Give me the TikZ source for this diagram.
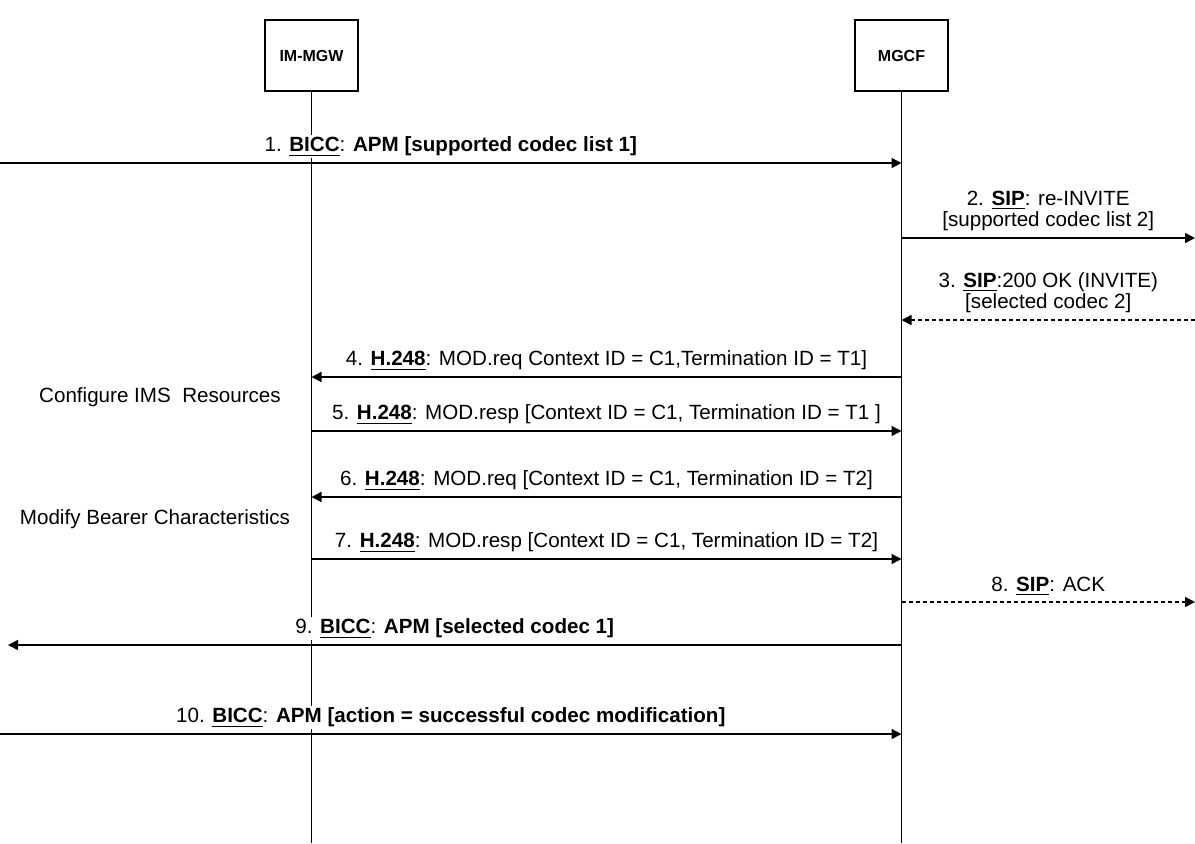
\documentclass[tikz,border=0pt]{standalone}
\usepackage{fontspec}
\setmainfont{Liberation Sans}
\usetikzlibrary{arrows.meta}
\tikzstyle{entity} = [draw, line width=0.75pt, minimum width=46.5pt, minimum height=35.5pt, inner sep=0pt, font=\fontsize{8}{9.5}\selectfont\bfseries]
\tikzstyle{lifeline} = [line width=0.75pt]
\tikzstyle{msg} = [line width=0.75pt, -{Triangle[length=5pt,width=5pt]}]
\tikzstyle{async} = [dash pattern=on 2pt off 1.5pt]
\tikzstyle{lbl} = [fill=white, inner sep=1pt, above=2pt, align=center, font=\fontsize{10.3}{9.5}\selectfont]
\tikzstyle{note} = [inner sep=0pt, font=\fontsize{10.3}{12}\selectfont]
\newcommand{\proto}[1]{\underline{\textbf{#1}}}

\begin{document}
\begin{tikzpicture}[x=0.5pt, y=-0.5pt]
\useasboundingbox (0,0) rectangle (1195,843);
% entities and lifelines
\node[entity] (mgw) at (311.5,55.5) {IM-MGW};
\node[entity] (mgcf) at (901.5,55.5) {MGCF};
\coordinate (mgwend) at (311.5,843);
\coordinate (mgcfend) at (901.5,843);
\draw[lifeline] (mgw.south) -- (mgwend);
\draw[lifeline] (mgcf.south) -- (mgcfend);

% message levels
\coordinate (lvl1) at (0,163);
\coordinate (lvl2) at (1195,238);
\coordinate (lvl3) at (1195,320);
\coordinate (lvl4) at (0,377);
\coordinate (lvl5) at (0,431);
\coordinate (lvl6) at (0,497);
\coordinate (lvl7) at (0,559);
\coordinate (lvl8) at (1195,602);
\coordinate (lvl9) at (8,645);
\coordinate (lvl10) at (0,734);

% messages
\draw[msg] (lvl1) -- (mgcf.south |- lvl1)
  node[midway, lbl] {1. \proto{BICC}: \textbf{APM [supported codec list 1]}};
\draw[msg] (mgcf.south |- lvl2) -- (lvl2)
  node[midway, lbl] {2. \proto{SIP}: re-INVITE\\{}[supported codec list 2]};
\draw[msg, async] (lvl3) -- (mgcf.south |- lvl3)
  node[midway, lbl] {3. \proto{SIP}:200 OK (INVITE)\\{}[selected codec 2]};
\draw[msg] (mgcf.south |- lvl4) -- (mgw.south |- lvl4)
  node[midway, lbl] {4. \proto{H.248}: MOD.req Context ID = C1,Termination ID = T1]};
\draw[msg] (mgw.south |- lvl5) -- (mgcf.south |- lvl5)
  node[midway, lbl] {5. \proto{H.248}: MOD.resp [Context ID = C1, Termination ID = T1 ]};
\draw[msg] (mgcf.south |- lvl6) -- (mgw.south |- lvl6)
  node[midway, lbl] {6. \proto{H.248}: MOD.req [Context ID = C1, Termination ID = T2]};
\draw[msg] (mgw.south |- lvl7) -- (mgcf.south |- lvl7)
  node[midway, lbl] {7. \proto{H.248}: MOD.resp [Context ID = C1, Termination ID = T2]};
\draw[msg, async] (mgcf.south |- lvl8) -- (lvl8)
  node[midway, lbl] {8. \proto{SIP}: ACK};
\draw[msg] (mgcf.south |- lvl9) -- (lvl9)
  node[midway, lbl] {9. \proto{BICC}: \textbf{APM [selected codec 1]}};
\draw[msg] (lvl10) -- (mgcf.south |- lvl10)
  node[midway, lbl] {10. \proto{BICC}: \textbf{APM [action = successful codec modification]}};

% actions
\node[note] (cfgres) at (160,397) {Configure IMS\ \ Resources};
\node[note] (modbearer) at (155,519) {Modify Bearer Characteristics};
\end{tikzpicture}
\end{document}
